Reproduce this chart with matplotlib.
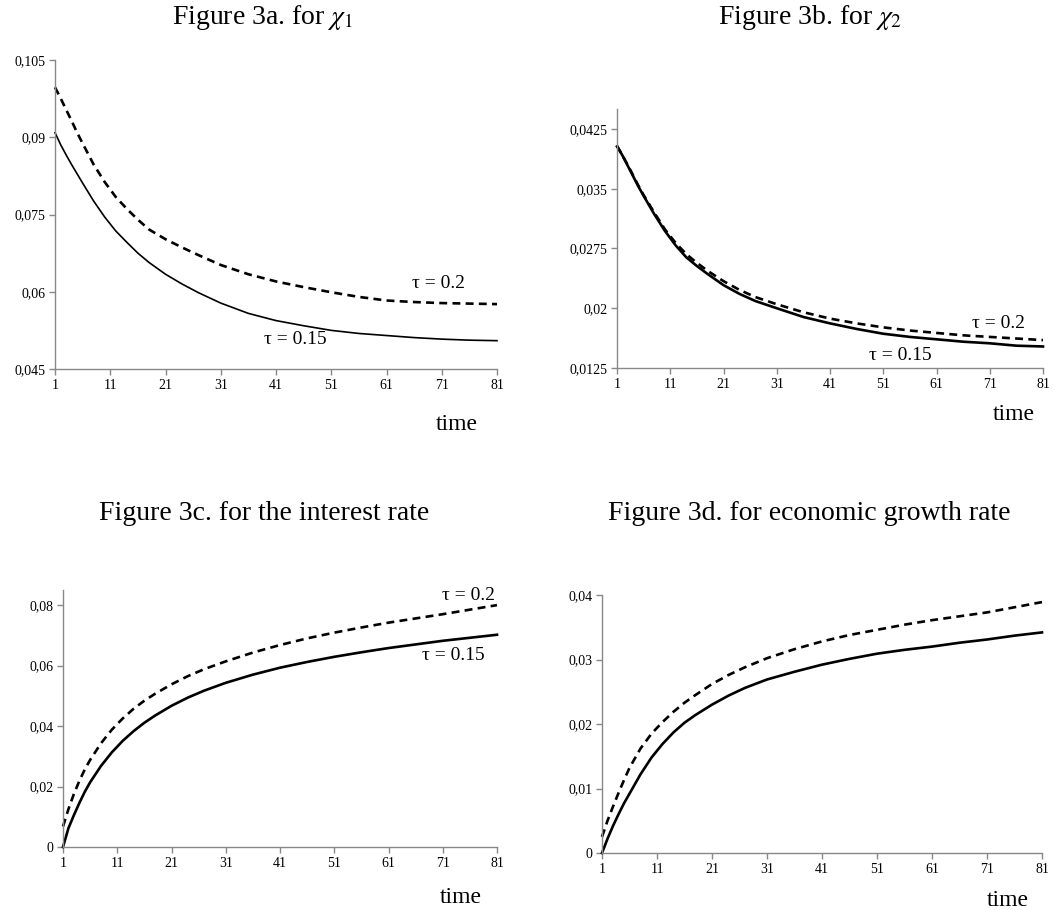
import numpy as np
import matplotlib
matplotlib.use("Agg")
import matplotlib.pyplot as plt

plt.rcParams['font.family'] = ['Liberation Serif', 'DejaVu Serif']
plt.rcParams['mathtext.fontset'] = 'stix'

times = [1, 2, 3, 4, 5, 6, 8, 10, 12, 14, 16, 18, 21, 24, 27, 31, 36, 41, 46, 51, 56, 61, 66, 71, 76, 81]

# figure 3a, chi_1
chi1_t015 = [0.0909, 0.0886, 0.0866, 0.0847, 0.0829, 0.0811, 0.0776, 0.0745, 0.0718, 0.0696, 0.0675, 0.0657, 0.0634,
             0.0615, 0.0598, 0.0578, 0.0558, 0.0544, 0.0534, 0.0525, 0.0519, 0.0515, 0.0511, 0.0508, 0.0506, 0.0505]
chi1_t02 = [0.0997, 0.0976, 0.0954, 0.0932, 0.0909, 0.0888, 0.0847, 0.0813, 0.0784, 0.0761, 0.0740, 0.0721, 0.0702,
            0.0686, 0.0671, 0.0652, 0.0634, 0.0620, 0.0609, 0.0599, 0.0590, 0.0583, 0.0580, 0.0578, 0.0577, 0.0576]
# figure 3b, chi_2
chi2_t015 = [0.0403, 0.0392, 0.0379, 0.0366, 0.0353, 0.0341, 0.0318, 0.0297, 0.0279, 0.0264, 0.0253, 0.0243, 0.0229,
             0.0218, 0.0209, 0.0200, 0.0189, 0.0181, 0.0174, 0.0168, 0.0164, 0.0161, 0.0158, 0.0156, 0.0153, 0.0152]
chi2_t02 = [0.0404, 0.0392, 0.0380, 0.0367, 0.0354, 0.0342, 0.0320, 0.0299, 0.0282, 0.0268, 0.0257, 0.0247, 0.0234,
            0.0223, 0.0214, 0.0205, 0.0195, 0.0187, 0.0181, 0.0176, 0.0172, 0.0169, 0.0166, 0.0164, 0.0162, 0.0160]
# figure 3c, interest rate
rate_t015 = [0.0, 0.0062, 0.0105, 0.0145, 0.0182, 0.0214, 0.0268, 0.0313, 0.0351, 0.0383, 0.0411, 0.0435, 0.0467,
             0.0494, 0.0517, 0.0543, 0.0570, 0.0593, 0.0612, 0.0629, 0.0644, 0.0658, 0.0670, 0.0682, 0.0692, 0.0702]
rate_t02 = [0.0068, 0.0125, 0.0175, 0.0218, 0.0256, 0.0288, 0.0343, 0.0388, 0.0425, 0.0457, 0.0484, 0.0507, 0.0538,
            0.0565, 0.0588, 0.0614, 0.0643, 0.0668, 0.0690, 0.0709, 0.0726, 0.0742, 0.0756, 0.0770, 0.0785, 0.0800]
# figure 3d, growth rate
growth_t015 = [0.0, 0.0022, 0.0042, 0.0060, 0.0077, 0.0092, 0.0122, 0.0148, 0.0169, 0.0187, 0.0202, 0.0214, 0.0230,
               0.0244, 0.0256, 0.0269, 0.0281, 0.0292, 0.0301, 0.0309, 0.0315, 0.0320, 0.0326, 0.0331, 0.0337, 0.0342]
growth_t02 = [0.0025, 0.0050, 0.0072, 0.0093, 0.0113, 0.0132, 0.0162, 0.0185, 0.0203, 0.0219, 0.0233, 0.0245, 0.0262,
              0.0276, 0.0288, 0.0302, 0.0316, 0.0328, 0.0338, 0.0346, 0.0354, 0.0361, 0.0367, 0.0373, 0.0381, 0.0389]

xticks = [1, 11, 21, 31, 41, 51, 61, 71, 81]
yticks_a = [0.045, 0.06, 0.075, 0.09, 0.105]
yticks_b = [0.0125, 0.02, 0.0275, 0.035, 0.0425]
yticks_c = [0, 0.02, 0.04, 0.06, 0.08]
yticks_d = [0, 0.01, 0.02, 0.03, 0.04]

W, H = 1054, 910
fig = plt.figure(figsize=(W / 100, H / 100), dpi=100)


def px_axes(left, right, top, bottom):
    return fig.add_axes([left / W, 1 - bottom / H, (right - left) / W, (bottom - top) / H])


def style(ax, yticks, ylim):
    ax.set_xlim(1, 81)
    ax.set_ylim(*ylim)
    ax.set_xticks(xticks)
    ax.set_yticks(yticks)
    ax.set_yticklabels([('%g' % v).replace('.', ',') for v in yticks])
    for s in ['top', 'right']:
        ax.spines[s].set_visible(False)
    for s in ['left', 'bottom']:
        ax.spines[s].set_color('#888888')
        ax.spines[s].set_linewidth(1.0)
    ax.tick_params(direction='out', length=4, width=1, color='#888888', labelsize=10, pad=3)


panels = [
    (px_axes(55, 497, 60, 369), chi1_t015, chi1_t02, yticks_a, (0.045, 0.105), 1.2),
    (px_axes(617, 1043, 109, 368), chi2_t015, chi2_t02, yticks_b, (0.0125, 0.045), 1.9),
    (px_axes(63, 497, 590, 847), rate_t015, rate_t02, yticks_c, (0, 0.085), 1.9),
    (px_axes(602, 1042, 595, 853), growth_t015, growth_t02, yticks_d, (0, 0.04), 1.9),
]

for ax, s015, s02, yt, yl, lw in panels:
    ax.plot(times, s015, color='black', lw=lw, solid_joinstyle='round', clip_on=False)
    ax.plot(times, s02, color='black', lw=1.9, linestyle=(0, (3, 2)), clip_on=False)
    style(ax, yt, yl)

# titles
fig.text(263 / W, 1 - 17 / H, r'Figure 3a. for $\chi_{\mathrm{1}}$', ha='center', va='center', fontsize=20)
fig.text(810 / W, 1 - 17 / H, r'Figure 3b. for $\chi_{\mathrm{2}}$', ha='center', va='center', fontsize=20)
fig.text(264 / W, 1 - 513 / H, 'Figure 3c. for the interest rate', ha='center', va='center', fontsize=20)
fig.text(809 / W, 1 - 513 / H, 'Figure 3d. for economic growth rate', ha='center', va='center', fontsize=20)

# "time" labels
fig.text(457 / W, 1 - 430 / H, 'time', ha='center', va='baseline', fontsize=17)
fig.text(1014 / W, 1 - 420 / H, 'time', ha='center', va='baseline', fontsize=17)
fig.text(461 / W, 1 - 903 / H, 'time', ha='center', va='baseline', fontsize=17)
fig.text(1008 / W, 1 - 906 / H, 'time', ha='center', va='baseline', fontsize=17)

# curve labels
fig.text(438 / W, 1 - 283 / H, 'τ = 0.2', ha='center', va='center', fontsize=14)
fig.text(295 / W, 1 - 340 / H, 'τ = 0.15', ha='center', va='center', fontsize=14)
fig.text(998 / W, 1 - 323 / H, 'τ = 0.2', ha='center', va='center', fontsize=14)
fig.text(900 / W, 1 - 355 / H, 'τ = 0.15', ha='center', va='center', fontsize=14)
fig.text(468 / W, 1 - 596 / H, 'τ = 0.2', ha='center', va='center', fontsize=14)
fig.text(453 / W, 1 - 656 / H, 'τ = 0.15', ha='center', va='center', fontsize=14)

fig.savefig('out.png', dpi=100)
